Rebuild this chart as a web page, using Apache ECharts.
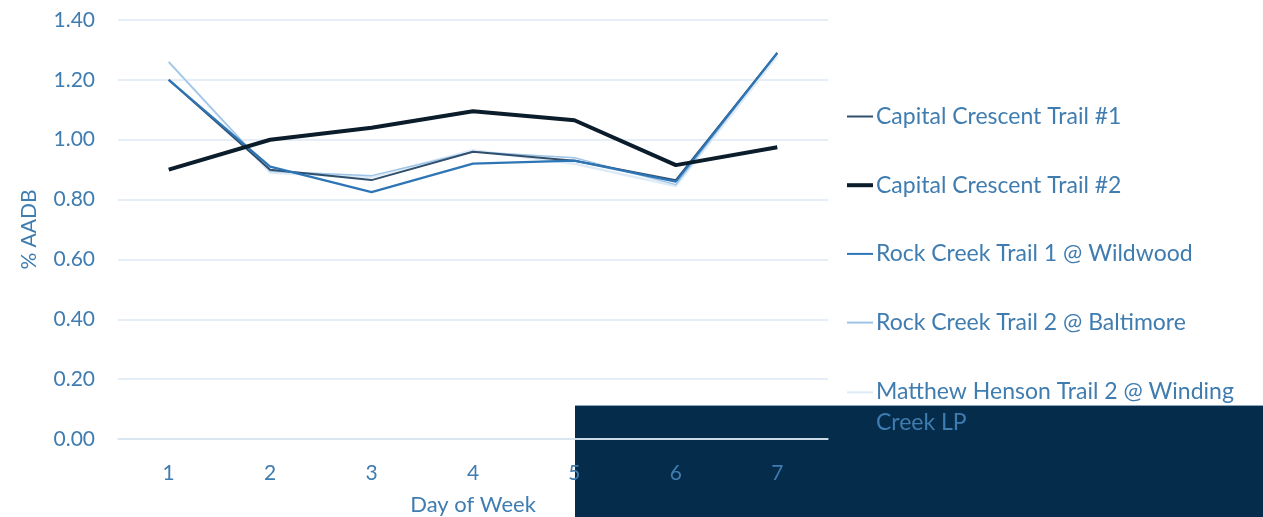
<!DOCTYPE html>
<html>
<head>
<meta charset="utf-8">
<script src="https://cdn.jsdelivr.net/npm/echarts@6/dist/echarts.min.js"></script>
<style>
  html, body { margin: 0; padding: 0; background: #fff; }
  #chart { width: 1263px; height: 517px; }
</style>
</head>
<body>
<div id="chart"></div>
<script>
const days = ['1', '2', '3', '4', '5', '6', '7']
const seriesNames = [
  'Capital Crescent Trail #1',
  'Capital Crescent Trail #2',
  'Rock Creek Trail 1 @ Wildwood',
  'Rock Creek Trail 2 @ Baltimore',
  'Matthew Henson Trail 2 @ Winding Creek LP'
]
const capital1 = [1.20, 0.90, 0.865, 0.96, 0.93, 0.865, 1.29]
const capital2 = [0.90, 1.00, 1.04, 1.095, 1.065, 0.915, 0.975]
const rockCreek1 = [1.20, 0.91, 0.825, 0.92, 0.93, 0.86, 1.29]
const rockCreek2 = [1.26, 0.895, 0.88, 0.96, 0.94, 0.85, 1.29]
const henson = [1.26, 0.89, 0.875, 0.965, 0.92, 0.845, 1.28]

const colors = ['#2f4f6c', '#0b1c2b', '#2e75b6', '#9dc3e6', '#deebf7']
const widths = [2, 4, 2.2, 1.5, 2.5]

const textColor = '#3f7cb0'
const font = 'Lato'
// legend line icons; the last one keeps its line on the first text line
const icons = [
  'path://M0 0H26V2H0Z',
  'path://M0 0H26V4H0Z',
  'path://M0 0H26V2H0Z',
  'path://M0 0H26V2H0Z',
  'path://M0 0H26V2H0Z M0 31'
]

const chart = echarts.init(document.getElementById('chart'))

function line(i, data, z) {
  return {
    name: seriesNames[i],
    type: 'line',
    data: data,
    symbol: 'none',
    z: z,
    lineStyle: { color: colors[i], width: widths[i] },
    itemStyle: { color: colors[i] }
  }
}

const option = {
  animation: false,
  textStyle: { fontFamily: font },
  graphic: [
    {
      type: 'rect',
      z: -10,
      shape: { x: 575, y: 405, width: 688, height: 112 },
      style: { fill: '#052c4b' }
    },
    {
      type: 'line',
      z: -9,
      shape: { x1: 575, y1: 405.5, x2: 1263, y2: 405.5 },
      style: { stroke: '#8ea6bd', lineWidth: 1 }
    }
  ],
  grid: {
    left: 118,
    right: 435,
    top: 20,
    bottom: 78,
    outerBoundsMode: 'none'
  },
  legend: {
    orient: 'vertical',
    left: 847,
    top: 101,
    padding: 0,
    itemWidth: 26,
    itemHeight: 44,
    itemGap: 37.7,
    textStyle: {
      color: textColor,
      fontSize: 23,
      fontFamily: font,
      padding: [0, 0, 0, -2],
      width: 372,
      overflow: 'break',
      lineHeight: 31
    },
    data: seriesNames.map((n, i) => ({
      name: n,
      icon: icons[i],
      itemStyle: { color: colors[i] }
    }))
  },
  xAxis: {
    type: 'category',
    data: days,
    name: 'Day of Week',
    nameLocation: 'middle',
    nameGap: 55,
    nameTextStyle: { color: textColor, fontSize: 22, fontFamily: font },
    axisLine: { lineStyle: { color: '#d5e3f0', width: 1.5 } },
    axisTick: { show: false },
    axisLabel: { color: textColor, fontSize: 21, margin: 24, fontFamily: font }
  },
  yAxis: {
    type: 'value',
    min: 0,
    max: 1.4,
    interval: 0.2,
    name: '% AADB',
    nameLocation: 'middle',
    nameGap: 78,
    nameTextStyle: { color: textColor, fontSize: 21, fontFamily: font },
    axisLabel: {
      color: textColor,
      fontSize: 21,
      margin: 23,
      fontFamily: font,
      formatter: v => v.toFixed(2)
    },
    splitLine: { lineStyle: { color: '#dce8f3', width: 1.5 } }
  },
  series: [
    line(4, henson, 2),
    line(3, rockCreek2, 3),
    line(0, capital1, 4),
    line(2, rockCreek1, 5),
    line(1, capital2, 6)
  ]
}
chart.setOption(option)
</script>
</body>
</html>
